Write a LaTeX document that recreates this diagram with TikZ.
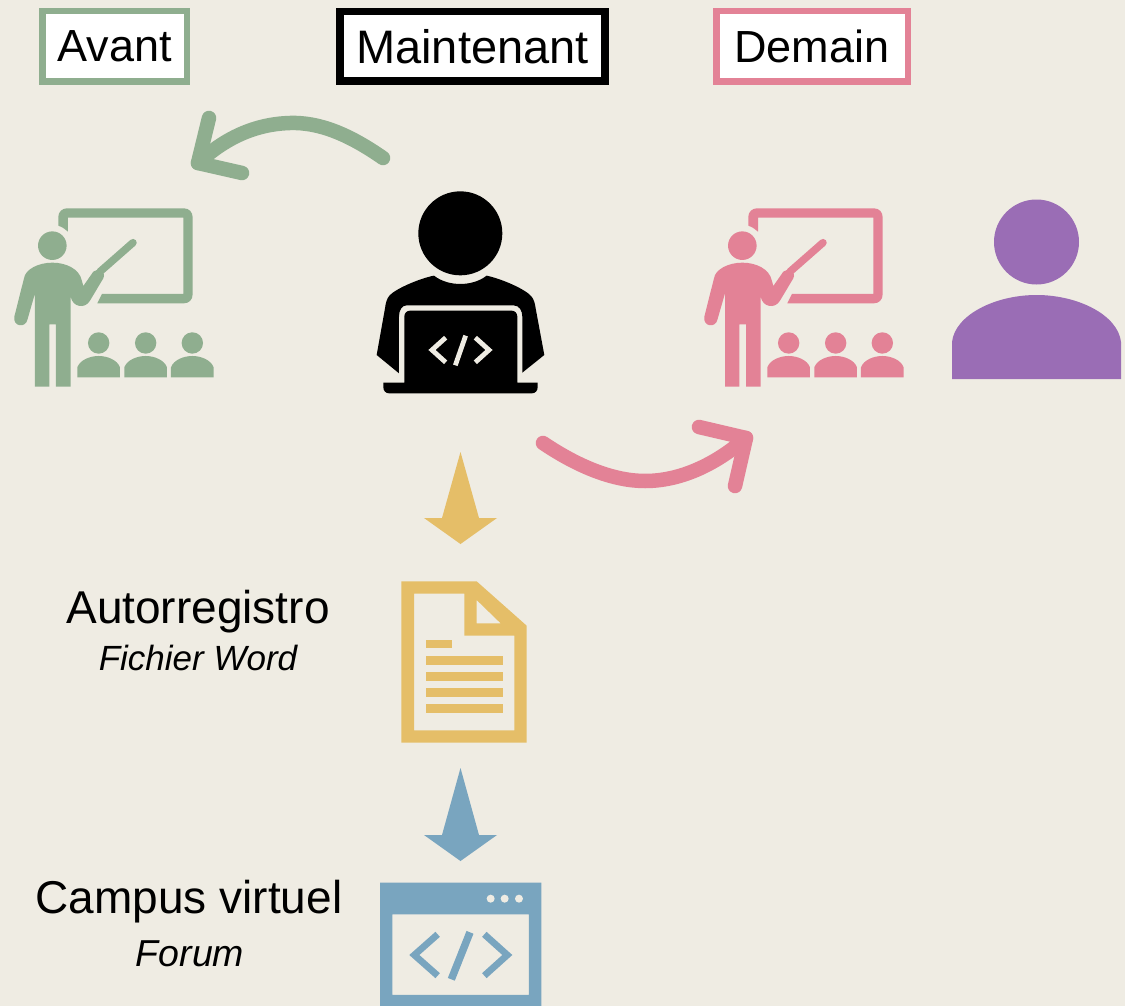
\documentclass[tikz,border=0pt]{standalone}
\usepackage{fontspec}
\setmainfont{Liberation Sans}
\definecolor{bgc}{HTML}{EFECE3}
\definecolor{grn}{HTML}{8FAE8F}
\definecolor{pnk}{HTML}{E38296}
\definecolor{prp}{HTML}{9A6DB5}
\definecolor{gld}{HTML}{E5BE68}
\definecolor{blu}{HTML}{79A5BF}
\tikzset{
  tag/.style={draw=#1,fill=white,line width=6.5pt,inner sep=0pt,minimum height=70.5pt,font=\fontsize{45}{52}\selectfont,text=black},
  lab/.style={font=\fontsize{46}{52}\selectfont,text=black,inner sep=0pt,anchor=base},
  sublab/.style={font=\fontsize{35}{44}\selectfont\itshape,text=black,inner sep=0pt,anchor=base},
  curved/.style={draw=#1,line width=14.5pt,line cap=round,line join=round},
}
\newcommand{\teacher}[2]{%
\begin{scope}[shift={(#2,180)},x=0.3333pt,y=-0.3333pt]
 \fill[#1] (157,197) circle[radius=14.3pt];
 \fill[#1] (105,620) -- (105,340) -- (82,420) .. controls (76,445) and (38,440) .. (43,410) -- (72,295) .. controls (76,268) and (115,248) .. (157,248) .. controls (200,248) and (238,268) .. (245,300) -- (250,318) -- (280,275) .. controls (292,262) and (320,275) .. (310,295) -- (270,362) .. controls (255,388) and (218,382) .. (212,350) -- (212,620) -- (168,620) -- (168,433) -- (148,433) -- (148,620) -- cycle;
 \draw[#1,line width=7.5pt,line cap=round] (300,275) -- (399,188);
 \fill[#1] (175,137) -- (175,110) .. controls (175,95) and (188,85) .. (200,85) -- (552,85) .. controls (568,85) and (578,97) .. (578,112) -- (578,343) .. controls (578,360) and (566,370) .. (552,370) -- (292,370) -- (306,342) -- (550,342) -- (550,113) -- (204,113) -- (204,155) .. controls (196,147) and (186,141) .. (175,137) -- cycle;
 \foreach \d in {0,141,281}{
  \fill[#1] (296+\d,489) circle[radius=10.7pt];
  \fill[#1] (232+\d,592) -- (232+\d,562) .. controls (240+\d,540) and (270+\d,528) .. (296+\d,528) .. controls (322+\d,528) and (352+\d,540) .. (360+\d,562) -- (360+\d,592) -- cycle;
 }
\end{scope}}
\begin{document}
\begin{tikzpicture}[x=1pt,y=-1pt]
\path[use as bounding box,fill=bgc] (0,0) rectangle (1125,1006);
% header tags
\node[tag=grn,minimum width=144.5pt] (avant) at (114.5,46.5) {Avant};
\node[tag=black,line width=7.5pt,minimum width=265pt,minimum height=69.5pt,font=\fontsize{47}{52}\selectfont] (maint) at (472.5,46.5) {Maintenant};
\node[tag=pnk,minimum width=191.5pt] (demain) at (812,46.5) {Demain};
% teachers
\teacher{grn}{0}
\teacher{pnk}{690}
% purple person
\fill[prp] (1036.5,242) circle[radius=42.5pt];
\fill[prp] (952,379) -- (952,342) .. controls (955,315) and (995,295) .. (1036.5,295) .. controls (1078,295) and (1118,315) .. (1121,342) -- (1121,379) -- cycle;
% programmer
\begin{scope}[shift={(360,180)},x=0.3333pt,y=-0.3333pt]
 \fill[black] (301,160) circle[radius=42pt];
 \fill[black] (222,287) .. controls (245,305) and (275,312) .. (301,312) .. controls (327,312) and (357,305) .. (380,287) .. controls (430,298) and (500,330) .. (515,350) .. controls (522,360) and (525,370) .. (527,385) -- (553,525) -- (487,578) -- (487,410) .. controls (487,392) and (478,376) .. (460,376) -- (140,376) .. controls (125,376) and (117,392) .. (117,410) -- (117,580) -- (50,525) -- (75,385) .. controls (77,370) and (80,355) .. (90,345) .. controls (110,325) and (180,295) .. (222,287) -- cycle;
 \fill[black] (70,608) -- (133,608) -- (133,410) .. controls (133,400) and (140,392) .. (150,392) -- (455,392) .. controls (465,392) and (472,400) .. (472,410) -- (472,608) -- (533,608) -- (533,622) .. controls (533,632) and (526,640) .. (516,640) -- (87,640) .. controls (77,640) and (70,632) .. (70,622) -- cycle;
 \draw[bgc,line width=4.8pt] (257,473) -- (216,510) -- (257,547);
 \draw[bgc,line width=4.8pt] (317,467) -- (286,556);
 \draw[bgc,line width=4.8pt] (346,473) -- (387,510) -- (346,547);
\end{scope}
% curved arrows
\coordinate (gs) at (383,158);
\coordinate (gt) at (198,163);
\draw[curved=grn] (gs) .. controls (350,135) and (320,122) .. (290,123) .. controls (255,124) and (225,138) .. (gt);
\draw[curved=grn] (209,118) -- (gt) -- (242,173);
\coordinate (ps) at (543,443);
\coordinate (pt) at (746,438);
\draw[curved=pnk] (ps) .. controls (580,468) and (615,481) .. (645,481) .. controls (680,481) and (715,465) .. (pt);
\draw[curved=pnk] (699,427) -- (pt) -- (735,486);
% block arrows
\fill[gld] (460.5,452) -- (479,518) -- (497,518) -- (460.5,544) -- (424,518) -- (442,518) -- cycle;
\fill[blu] (460.5,768) -- (479,835) -- (497,835) -- (460.5,861) -- (424,835) -- (442,835) -- cycle;
% document
\begin{scope}[shift={(380,570)},x=0.3333pt,y=-0.3333pt]
 \fill[gld,even odd rule] (64,34) -- (290,34) -- (440,167) -- (440,518) -- (64,518) -- cycle
   (102,71) -- (253,71) -- (253,197) -- (403,197) -- (403,481) -- (102,481) -- cycle
   (290,90) -- (290,160) -- (362,160) -- cycle;
 \fill[gld] (137,209) rectangle (216,235);
 \foreach \yy in {258,306,354,402}{\fill[gld] (137,\yy) rectangle (368,\yy+26);}
\end{scope}
% window
\begin{scope}[shift={(370,870)},x=0.3333pt,y=-0.3333pt]
 \fill[blu,even odd rule] (30,38) rectangle (514,408) (67,133) rectangle (477,375);
 \foreach \xx in {362,404,447}{\fill[bgc] (\xx,86) circle[radius=4pt];}
 \draw[blu,line width=6.7pt] (203,193) -- (133,255) -- (203,317);
 \draw[blu,line width=7.5pt] (300,187) -- (244,328);
 \draw[blu,line width=6.7pt] (343,193) -- (412,255) -- (343,317);
\end{scope}
% labels
\node[lab] (auto) at (198,623) {Autorregistro};
\node[sublab] (word) at (198,670) {Fichier Word};
\node[lab] (campus) at (189,913) {Campus virtuel};
\node[sublab,font=\fontsize{37.5}{46}\selectfont\itshape] (forum) at (190,966) {Forum};
\end{tikzpicture}
\end{document}
